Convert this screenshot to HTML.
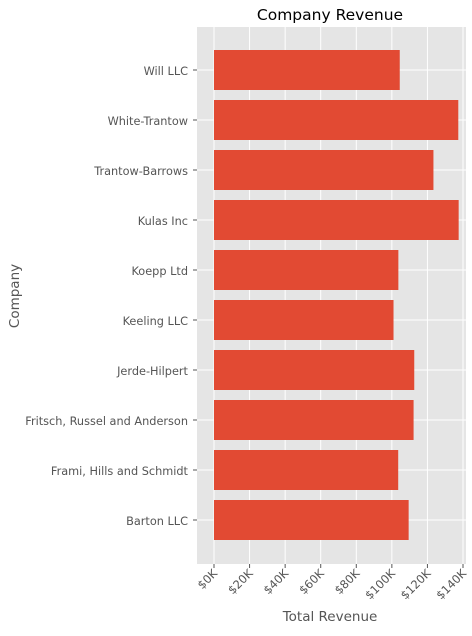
<!DOCTYPE html>
<html><head><meta charset="utf-8"><style>
body{margin:0;background:#fff;font-family:"Liberation Sans","DejaVu Sans",sans-serif;}
svg text{font-family:"DejaVu Sans","Liberation Sans",sans-serif;}
</style></head><body>
<svg id="c" width="472" height="631"></svg>
<script>
const categories=["Barton LLC","Frami, Hills and Schmidt","Fritsch, Russel and Anderson","Jerde-Hilpert","Keeling LLC","Koepp Ltd","Kulas Inc","Trantow-Barrows","White-Trantow","Will LLC"];
const revenues=[109438.5,103569.59,112214.71,112591.43,100934.3,103660.54,137562.22,123381.38,137351.96,104437.6];
const xTicks=[0,20000,40000,60000,80000,100000,120000,140000];
const xTickLabels=["$0K","$20K","$40K","$60K","$80K","$100K","$120K","$140K"];
const NS="http://www.w3.org/2000/svg";
const svg=document.getElementById('c');
const L=197,R=466,T=27,B=564;
const X=v=>214+v*249/140000;
const Y=i=>520-i*50;
function mk(t,a,p){const e=document.createElementNS(NS,t);for(const k in a)e.setAttribute(k,a[k]);(p||svg).appendChild(e);return e;}
const bg=mk('rect',{x:L,y:T,width:R-L,height:B-T,fill:'#e5e5e5'});


xTicks.forEach((v,i)=>{
  const g=mk('line',{x1:X(v),x2:X(v),y1:T,y2:B,stroke:'#fff','stroke-width':1});
  
  
  mk('line',{x1:X(v),x2:X(v),y1:B,y2:B+4,stroke:'#555'});
  const t=mk('text',{x:X(v)+4,y:B+10,'font-size':11.5,fill:'#555','text-anchor':'end',transform:`rotate(-45 ${X(v)+4} ${B+10})`});
  t.textContent=xTickLabels[i];
  
  
});
categories.forEach((c,i)=>{
  const g=mk('line',{x1:L,x2:R,y1:Y(i),y2:Y(i),stroke:'#fff','stroke-width':1});
  
  
});
categories.forEach((c,i)=>{
  const b=mk('rect',{x:X(0),y:Y(i)-20,width:X(revenues[i])-X(0),height:40,fill:'#e24a33'});
  
  
  mk('line',{x1:L-4,x2:L,y1:Y(i),y2:Y(i),stroke:'#555'});
  const t=mk('text',{x:L-9,y:Y(i)+5,'font-size':11.3,fill:'#555','text-anchor':'end'});
  t.textContent=c;
  
  
});
const ti=mk('text',{x:330,y:20,'font-size':15.5,fill:'#000','text-anchor':'middle'});
ti.textContent='Company Revenue';


const xt=mk('text',{x:330,y:621,'font-size':13.5,fill:'#555','text-anchor':'middle'});
xt.textContent='Total Revenue';


const yt=mk('text',{x:19,y:296,'font-size':13.5,fill:'#555','text-anchor':'middle',transform:'rotate(-90 19 296)'});
yt.textContent='Company';


</script>
</body></html>
